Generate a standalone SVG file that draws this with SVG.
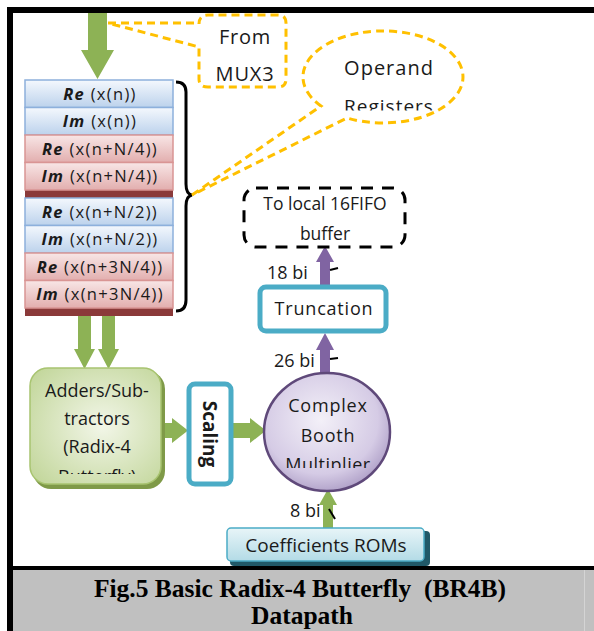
<svg xmlns="http://www.w3.org/2000/svg" width="594" height="631" viewBox="0 0 594 631">
<defs>
<style>
.t{font-family:"Open Sans","Liberation Sans",sans-serif;fill:#1a1a1a;text-anchor:middle}
.reg{font-size:16.5px;letter-spacing:1.3px}
.reg .b{font-weight:bold;font-style:italic}
.call{fill:none;stroke:#ffc000;stroke-width:3;stroke-dasharray:8 5}
.cap{font-family:"Liberation Serif","Times New Roman",serif;font-weight:bold;font-size:25.5px;fill:#000;text-anchor:middle}
.lbl{font-size:18px;text-anchor:start}
</style>
<linearGradient id="gBlue" x1="0" y1="0" x2="0" y2="1">
<stop offset="0" stop-color="#f4f8fd"/><stop offset="1" stop-color="#bcd2ec"/>
</linearGradient>
<linearGradient id="gRed" x1="0" y1="0" x2="0" y2="1">
<stop offset="0" stop-color="#f8e6e6"/><stop offset="1" stop-color="#e2aeae"/>
</linearGradient>
<radialGradient id="gGreen" cx="0.55" cy="0.5" r="0.7">
<stop offset="0" stop-color="#f2f6e8"/><stop offset="1" stop-color="#c2d69a"/>
</radialGradient>
<radialGradient id="gPurple" cx="0.45" cy="0.4" r="0.65">
<stop offset="0" stop-color="#f3f0f8"/><stop offset="0.7" stop-color="#d5cbe5"/><stop offset="1" stop-color="#a898c2"/>
</radialGradient>
<linearGradient id="gTeal" x1="0" y1="0" x2="0" y2="1">
<stop offset="0" stop-color="#e8f5f8"/><stop offset="1" stop-color="#b3dbe6"/>
</linearGradient>
<clipPath id="clipAdd"><rect x="30" y="368" width="133" height="106"/></clipPath>
<clipPath id="clipMul"><rect x="260" y="380" width="132" height="88"/></clipPath>
<clipPath id="clipReg"><rect x="300" y="30" width="170" height="80.5"/></clipPath>
</defs>

<rect width="594" height="631" fill="#fff"/>

<!-- frame -->
<g id="frame">
<rect x="7" y="7" width="587" height="6" fill="#000"/>
<rect x="7" y="7" width="6" height="624" fill="#000"/>
<rect x="13" y="570" width="581" height="61" fill="#c0c0c0"/>
<rect x="7" y="566" width="587" height="4" fill="#000"/>
<line x1="584.5" y1="570" x2="584.5" y2="631" stroke="#d4d4d4" stroke-width="1"/>
</g>

<!-- connectors -->
<g id="connectors">
<path d="M88,13 H107 V50 H114 L97.5,79 L81,50 H88 Z" fill="#8db255"/>
<path d="M78,316 H91 V349 H95 L84.5,369 L74,349 H78 Z" fill="#8db255"/>
<path d="M102,316 H115 V349 H119 L108.5,369 L98,349 H102 Z" fill="#8db255"/>
<path d="M162,423 H172 V418 L188,430.5 L172,443 V438 H162 Z" fill="#8db255"/>
<path d="M232,423 H250 V418 L266,430.5 L250,443 V438 H232 Z" fill="#8db255"/>
<path d="M323,529 V505 H319 L328,489 L337,505 H333 V529 Z" fill="#8db255"/>
<path d="M320,375 V350 H316 L325,333 L334,350 H330 V375 Z" fill="#8064a2"/>
<path d="M320,287 V262 H316 L325,246 L334,262 H330 V287 Z" fill="#8064a2"/>
<line x1="330" y1="270" x2="338" y2="268" stroke="#000" stroke-width="2"/>
<line x1="330" y1="359" x2="338" y2="358" stroke="#000" stroke-width="2"/>
<line x1="329" y1="509" x2="335" y2="519" stroke="#000" stroke-width="2"/>
</g>

<!-- register stack -->
<g id="registers">
<rect x="25" y="190" width="148" height="8" fill="#8b3a3a"/>
<rect x="25" y="308" width="148" height="8" fill="#8b3a3a"/>
<rect x="25" y="80" width="148" height="27.5" fill="url(#gBlue)" stroke="#8db0dc" stroke-width="1.5"/>
<rect x="25" y="107.5" width="148" height="27.5" fill="url(#gBlue)" stroke="#8db0dc" stroke-width="1.5"/>
<rect x="25" y="135" width="148" height="27.5" fill="url(#gRed)" stroke="#d99594" stroke-width="1.5"/>
<rect x="25" y="162.5" width="148" height="27.5" fill="url(#gRed)" stroke="#d99594" stroke-width="1.5"/>
<rect x="25" y="198" width="148" height="27.5" fill="url(#gBlue)" stroke="#8db0dc" stroke-width="1.5"/>
<rect x="25" y="225.5" width="148" height="27.5" fill="url(#gBlue)" stroke="#8db0dc" stroke-width="1.5"/>
<rect x="25" y="253" width="148" height="27.5" fill="url(#gRed)" stroke="#d99594" stroke-width="1.5"/>
<rect x="25" y="280.5" width="148" height="27.5" fill="url(#gRed)" stroke="#d99594" stroke-width="1.5"/>
<text class="t reg" x="100" y="99.5"><tspan class="b">Re</tspan> (x(n))</text>
<text class="t reg" x="100" y="127"><tspan class="b">Im</tspan> (x(n))</text>
<text class="t reg" x="100" y="154.5"><tspan class="b">Re</tspan> (x(n+N/4))</text>
<text class="t reg" x="100" y="182"><tspan class="b">Im</tspan> (x(n+N/4))</text>
<text class="t reg" x="100" y="217.5"><tspan class="b">Re</tspan> (x(n+N/2))</text>
<text class="t reg" x="100" y="245"><tspan class="b">Im</tspan> (x(n+N/2))</text>
<text class="t reg" x="100" y="272.5"><tspan class="b">Re</tspan> (x(n+3N/4))</text>
<text class="t reg" x="100" y="300"><tspan class="b">Im</tspan> (x(n+3N/4))</text>
<path d="M176,82 Q186,82 186,92 V184 Q186,194 192,195 Q186,196 186,206 V300 Q186,311 176,311" fill="none" stroke="#000" stroke-width="3"/>
</g>

<!-- From MUX3 callout -->
<g id="from-mux3">
<path class="call" d="M108,23 L199,23 V24 Q199,15 208,15 H278 Q286,15 286,23 V79 Q286,87 278,87 H208 Q199,87 199,79 V47 Z"/>
<text class="t" x="245" y="44" font-size="20" letter-spacing="0.8">From</text>
<text class="t" x="245" y="81" font-size="20" letter-spacing="0.8">MUX3</text>
</g>

<!-- Operand Registers callout -->
<g id="operand-registers">
<path class="call" d="M192,195 L321,106 A80,46 0 1 1 347,118 Z"/>
<text class="t" x="389" y="75" font-size="20" letter-spacing="1">Operand</text>
<text class="t" x="389" y="113" font-size="19" letter-spacing="1" clip-path="url(#clipReg)">Registers</text>
</g>

<!-- FIFO buffer -->
<g id="fifo">
<rect x="244" y="188" width="161" height="59" rx="12" fill="#fff" stroke="#000" stroke-width="3" stroke-dasharray="12 9"/>
<text class="t" x="325" y="210" font-size="17.5">To local 16FIFO</text>
<text class="t" x="325" y="240" font-size="17.5">buffer</text>
</g>

<!-- Truncation -->
<g id="truncation">
<rect x="260" y="287" width="126" height="44" rx="6" fill="#fff" stroke="#4bacc6" stroke-width="5"/>
<text class="t" x="324" y="315" font-size="18" letter-spacing="0.8">Truncation</text>
</g>

<!-- bit labels -->
<g id="labels">
<text class="t lbl" x="267" y="279">18 bi</text>
<text class="t lbl" x="274" y="367">26 bi</text>
<text class="t lbl" x="290" y="517">8 bi</text>
</g>

<!-- Adders/Subtractors -->
<g id="adders">
<rect x="33" y="371" width="132" height="118" rx="18" fill="#7f9a48"/>
<rect x="30" y="368" width="131" height="116" rx="18" fill="url(#gGreen)" stroke="#a8c470" stroke-width="1.5"/>
<g clip-path="url(#clipAdd)">
<text class="t" x="97" y="397" font-size="18">Adders/Sub-</text>
<text class="t" x="97" y="425" font-size="18">tractors</text>
<text class="t" x="97" y="453" font-size="18">(Radix-4</text>
<text class="t" x="97" y="483" font-size="18">Butterfly)</text>
</g>
</g>

<!-- Scaling -->
<g id="scaling">
<rect x="189" y="384" width="42" height="100" rx="6" fill="#fff" stroke="#4bacc6" stroke-width="5"/>
<text class="t" x="0" y="0" font-size="19" font-weight="bold" transform="translate(203,434) rotate(90)">Scaling</text>
</g>

<!-- Complex Booth Multiplier -->
<g id="multiplier">
<ellipse cx="327" cy="432" rx="63" ry="59" fill="url(#gPurple)" stroke="#5f497a" stroke-width="2.5"/>
<text class="t" x="328" y="412" font-size="18" letter-spacing="0.8">Complex</text>
<text class="t" x="328" y="442" font-size="18" letter-spacing="0.8">Booth</text>
<text class="t" x="328" y="471" font-size="18" letter-spacing="0.5" clip-path="url(#clipMul)">Multiplier</text>
</g>

<!-- Coefficients ROMs -->
<g id="roms">
<rect x="230" y="531" width="200" height="35" rx="4" fill="#215968"/>
<rect x="227" y="528" width="197" height="33" rx="4" fill="url(#gTeal)" stroke="#4bacc6" stroke-width="1.5"/>
<text class="t" x="326" y="552" font-size="19">Coefficients ROMs</text>
</g>

<!-- caption -->
<g id="caption">
<text class="cap" x="300" y="597" xml:space="preserve">Fig.5 Basic Radix-4 Butterfly  (BR4B)</text>
<text class="cap" x="302" y="624">Datapath</text>
</g>
</svg>
